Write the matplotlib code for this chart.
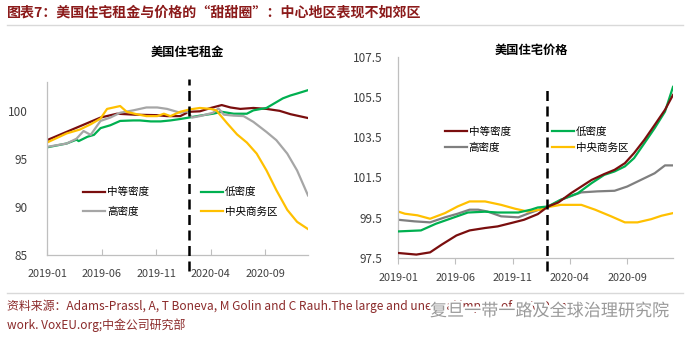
import matplotlib
matplotlib.use("Agg")
import matplotlib.pyplot as plt
import matplotlib.patheffects as pe
from matplotlib.lines import Line2D

plt.rcParams['font.family'] = ['Noto Sans CJK SC', 'DejaVu Sans']

# month index: 0 = 2019-01
tick_pos = [0, 5, 10, 15, 20]
tick_labels = ['2019-01', '2019-06', '2019-11', '2020-04', '2020-09']
covid_month = 13

series_names = ['中等密度', '低密度', '高密度', '中央商务区']

# --- rents ---
rent_mid_x = [0, 4.9, 6.4, 8, 10, 11, 12.2, 13, 14, 15, 16, 16.8, 17.7, 18.9, 20.1, 21.3, 22.3, 23.9]
rent_mid_y = [96.95, 99.3, 99.7, 99.6, 99.55, 99.45, 99.45, 99.9, 99.95, 100.3, 100.6, 100.35, 100.2, 100.3, 100.2, 100.0, 99.65, 99.25]

rent_low_x = [0, 1.8, 2.7, 2.9, 3.7, 4.3, 4.9, 5.8, 6.7, 7.9, 8.5, 9.5, 10.4, 11.3, 12.2, 13, 14, 15.2, 16,
              17.1, 18.3, 18.9, 20.1, 21, 21.6, 22.3, 22.9, 23.9]
rent_low_y = [96.2, 96.6, 97.0, 96.85, 97.3, 97.5, 98.2, 98.5, 98.95, 99.0, 99.0, 98.9, 98.9, 99.0, 99.15, 99.3, 99.5, 99.7, 99.9,
              99.7, 99.7, 100.05, 100.3, 100.9, 101.3, 101.6, 101.8, 102.15]

rent_high_x = [0, 1.8, 2.7, 3.35, 4, 4.9, 5.8, 6.7, 7.9, 9.1, 10.1, 11, 12.2, 12.8, 13.3, 14, 15.2, 15.7, 16.2,
               17.1, 18, 18.9, 20.1, 21, 22, 22.9, 23.9]
rent_high_y = [96.25, 96.6, 97.1, 97.9, 97.5, 98.95, 99.3, 99.8, 100.05, 100.35, 100.35, 100.2, 99.8, 99.95, 99.3, 99.45, 99.8, 100.25, 99.6,
               99.5, 99.45, 98.85, 97.8, 96.95, 95.55, 93.8, 91.2]

rent_cbd_x = [0, 1.8, 3, 4, 4.9, 5.5, 6.1, 6.7, 7.3, 8.2, 9.1, 10.1, 10.7, 11.3, 12.2, 13.1, 14, 15, 15.5,
              16.5, 17.4, 18.3, 19.2, 20.1, 21, 22, 22.9, 23.9]
rent_cbd_y = [96.7, 97.65, 98.05, 98.6, 99.2, 100.2, 100.35, 100.5, 99.9, 99.65, 99.45, 99.45, 99.7, 99.45, 99.9, 100.15, 100.3, 100.2, 100.05,
              98.7, 97.55, 96.7, 95.55, 93.8, 91.75, 89.7, 88.45, 87.7]

# --- prices ---
price_mid_x = [0, 1.6, 2.8, 3.8, 5.1, 6.25, 7.6, 8.7, 9.9, 11, 12.2, 13.1, 14, 15.1, 16, 16.9, 18, 18.9,
               19.8, 20.6, 21.5, 22.4, 23.3, 24]
price_mid_y = [97.75, 97.67, 97.78, 98.16, 98.62, 98.87, 98.99, 99.07, 99.24, 99.4, 99.68, 100.06, 100.26, 100.72, 101.05, 101.38, 101.67, 101.88,
               102.21, 102.71, 103.37, 104.11, 104.86, 105.6]

price_low_x = [0, 2, 3.3, 4.65, 6.1, 7.6, 8.7, 10.5, 11.6, 12.2, 13.1, 14.2, 15.7, 16.9, 18, 18.9, 19.8, 20.6,
               21.5, 22.4, 23.3, 24]
price_low_y = [98.82, 98.87, 99.2, 99.47, 99.76, 99.8, 99.76, 99.76, 99.9, 100.01, 100.06, 100.39, 100.72, 101.22, 101.63, 101.8, 102.05, 102.46,
               103.2, 103.95, 104.77, 106.0]

price_high_x = [0, 1.45, 2.8, 4.1, 5.2, 6.25, 7, 7.8, 9, 10.5, 11.6, 13.1, 14.2, 16, 17.4, 18.9, 20, 21.2,
                22.4, 23.3, 24]
price_high_y = [99.4, 99.32, 99.27, 99.52, 99.7, 99.9, 99.9, 99.81, 99.57, 99.52, 99.76, 100.06, 100.39, 100.76, 100.81, 100.84, 101.05, 101.38,
                101.71, 102.1, 102.1]

price_cbd_x = [0, 0.6, 1.7, 2.8, 4.1, 5.2, 6.25, 7.6, 9, 10.2, 11.3, 12.4, 13.1, 14.2, 16, 17.2, 18.6, 19.8,
               20.9, 22.1, 23, 24]
price_cbd_y = [99.81, 99.7, 99.62, 99.45, 99.73, 100.06, 100.31, 100.31, 100.14, 99.95, 99.81, 99.9, 100.03, 100.14, 100.14, 99.9, 99.57, 99.27,
               99.27, 99.43, 99.6, 99.73]

maroon = '#7A0E0E'
green = '#00B050'
yellow = '#FFC000'
axis_grey = '#BFBFBF'
text_col = '#404040'

fig = plt.figure(figsize=(6.9, 3.41), dpi=100)

# page title and rules
fig.text(7 / 690, 1 - 13 / 341, '图表7：美国住宅租金与价格的“甜甜圈”：中心地区表现不如郊区',
         fontsize=10.1, fontweight='bold', color='#8B1A1A', va='center', ha='left')
fig.add_artist(Line2D([7 / 690, 683 / 690], [1 - 25 / 341] * 2, color='#D9D9D9', lw=1))
fig.add_artist(Line2D([7 / 690, 683 / 690], [1 - 293 / 341] * 2, color='#D9D9D9', lw=1))


def style_axes(ax, xmax, ylim, yticks, ylabels, tick_dir, xpad):
    ax.set_xlim(0, xmax)
    ax.set_ylim(*ylim)
    ax.set_yticks(yticks)
    ax.set_yticklabels(ylabels)
    ax.set_xticks(tick_pos)
    ax.set_xticklabels(tick_labels)
    for s in ['top', 'right']:
        ax.spines[s].set_visible(False)
    for s in ['left', 'bottom']:
        ax.spines[s].set_color(axis_grey)
        ax.spines[s].set_linewidth(0.9)
    ax.tick_params(axis='y', length=0, labelsize=8.5, colors=text_col)
    ax.tick_params(axis='x', length=4, direction=tick_dir, color=axis_grey,
                   labelsize=7.8, labelcolor=text_col, pad=xpad)


def add_legend(ax, anchor, colspace, rowspace):
    h = ax.get_legend_handles_labels()[0]
    # two columns, rows: 中等密度/低密度, 高密度/中央商务区
    order = [0, 2, 1, 3]
    ax.legend([h[i] for i in order], [series_names[i] for i in order],
              ncol=2, frameon=False, fontsize=7.6, loc='center left',
              bbox_to_anchor=anchor, handlelength=2.1, handletextpad=0.15,
              columnspacing=colspace, labelspacing=rowspace, borderaxespad=0)


# left: rents
ax1 = fig.add_axes([47 / 690, 1 - 255 / 341, 261 / 690, 173 / 341])
ax1.plot(rent_mid_x, rent_mid_y, color=maroon, lw=1.6, label=series_names[0])
ax1.plot(rent_low_x, rent_low_y, color=green, lw=1.6, label=series_names[1])
ax1.plot(rent_high_x, rent_high_y, color='#A6A6A6', lw=1.6, label=series_names[2])
ax1.plot(rent_cbd_x, rent_cbd_y, color=yellow, lw=1.6, label=series_names[3])
style_axes(ax1, 23.9, (85, 103), [85, 90, 95, 100], ['85', '90', '95', '100'], 'in', 10)
ax1.tick_params(axis='y', pad=14)
ax1.plot([covid_month, covid_month], [-0.09, 1.02], transform=ax1.get_xaxis_transform(),
         color='black', lw=1.8, ls=(0, (4, 2.2)), clip_on=False, zorder=5)
fig.text(187.5 / 690, 1 - 52 / 341, '美国住宅租金', fontsize=8.8, fontweight='bold',
         color='black', ha='center', va='center')
add_legend(ax1, (0.123, 0.306), 4.9, 0.9)

# right: prices
ax2 = fig.add_axes([398 / 690, 1 - 258 / 341, 275 / 690, 201.3 / 341])
ax2.plot(price_mid_x, price_mid_y, color=maroon, lw=1.6, label=series_names[0], zorder=4)
ax2.plot(price_low_x, price_low_y, color=green, lw=1.6, label=series_names[1], zorder=3)
ax2.plot(price_high_x, price_high_y, color='#7F7F7F', lw=1.6, label=series_names[2])
ax2.plot(price_cbd_x, price_cbd_y, color=yellow, lw=1.6, label=series_names[3])
yt = [97.5, 99.5, 101.5, 103.5, 105.5, 107.5]
style_axes(ax2, 24, (97.5, 107.5), yt, [f'{v:.1f}' for v in yt], 'out', 7)
ax2.tick_params(axis='y', pad=11)
ax2.plot([covid_month, covid_month], [-0.065, 0.84], transform=ax2.get_xaxis_transform(),
         color='black', lw=1.8, ls=(0, (4, 2.2)), clip_on=False, zorder=5)
fig.text(531 / 690, 1 - 50.5 / 341, '美国住宅价格', fontsize=8.8, fontweight='bold',
         color='black', ha='center', va='center')
add_legend(ax2, (0.156, 0.586), 3.9, 0.55)

# source note
src_col = '#8B2A2A'
fig.text(7 / 690, 1 - 306.5 / 341,
         '资料来源：Adams-Prassl, A, T Boneva, M Golin and C Rauh.The large and unequal impact of COVID on',
         fontsize=8.6, color=src_col, ha='left', va='center')
fig.text(7 / 690, 1 - 325 / 341, 'work. VoxEU.org;中金公司研究部',
         fontsize=8.6, color=src_col, ha='left', va='center')
fig.text(430 / 690, 1 - 311 / 341, '复旦一带一路及全球治理研究院', fontsize=12.3,
         color='#9A9A9A', ha='left', va='center',
         path_effects=[pe.withStroke(linewidth=3, foreground='white')])

fig.savefig('out.png', dpi=100)
